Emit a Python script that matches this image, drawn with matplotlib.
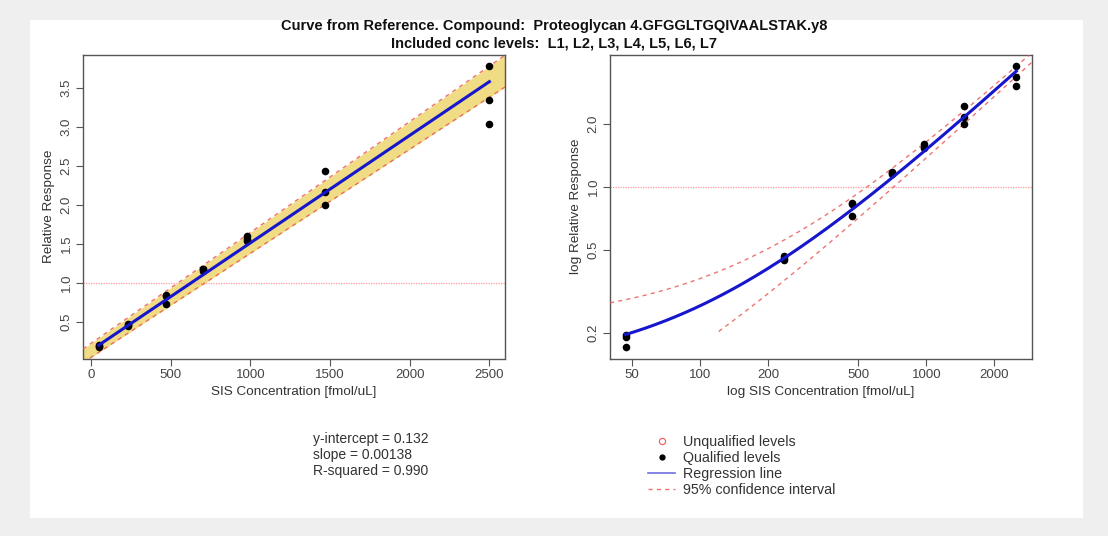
import numpy as np
import matplotlib
matplotlib.use('Agg')
import matplotlib.pyplot as plt
from matplotlib.patches import Rectangle
from matplotlib.lines import Line2D
from matplotlib.ticker import FixedLocator, FixedFormatter, NullLocator

plt.rcParams['font.family'] = ['Liberation Sans', 'DejaVu Sans']

# concentration levels L1..L7 [fmol/uL]
conc = [46.9, 234, 469, 703, 977, 1465, 2500]
# three replicate responses per level
resp_a = [0.196, 0.465, 0.836, 1.18, 1.60, 2.43, 3.78]
resp_b = [0.191, 0.455, 0.825, 1.17, 1.56, 2.16, 3.35]
resp_c = [0.171, 0.448, 0.727, 1.15, 1.54, 2.00, 3.04]

intercept = 0.132
slope = 0.00138
r_squared = 0.990
# half width of the 95% band read at x=0 and x=2500
ci_half_start = 0.09
ci_half_end = 0.20
ci_log_lower_from = 120   # lower band in the log panel starts here

x_all = np.array(conc * 3)
y_all = np.array(resp_a + resp_b + resp_c)

def fit(x):
    return intercept + slope * x

def ci_half(x):
    return ci_half_start + (ci_half_end - ci_half_start) * x / 2500

# R style axis limits (4% padding)
def pad_lin(lo, hi):
    d = (hi - lo) * 0.04
    return lo - d, hi + d

def pad_log(lo, hi):
    a, b = np.log10(lo), np.log10(hi)
    d = (b - a) * 0.04
    return 10 ** (a - d), 10 ** (b + d)

xlim_lin = pad_lin(x_all.min(), x_all.max())
ylim_lin = pad_lin(y_all.min(), y_all.max())
xlim_log = pad_log(x_all.min(), x_all.max())
ylim_log = pad_log(y_all.min(), y_all.max())

box_col = '#555555'
txt_col = '#333333'
blue = '#1616cc'
red = '#e8524f'
band = '#F0DC84'

fig = plt.figure(figsize=(11.08, 5.36), dpi=100, facecolor='#efefef')
panel = Rectangle((30 / 1108, 1 - 518 / 536), (1083 - 30) / 1108, (518 - 20) / 536,
                  transform=fig.transFigure, facecolor='white', edgecolor='none', zorder=-10)
fig.add_artist(panel)

ax1 = fig.add_axes([83 / 1108, 1 - 358.5 / 536, 422 / 1108, 303.5 / 536])
ax2 = fig.add_axes([610 / 1108, 1 - 358.5 / 536, 422 / 1108, 303.5 / 536])

for ax in (ax1, ax2):
    ax.set_facecolor('white')
    for s in ax.spines.values():
        s.set_color(box_col)
        s.set_linewidth(1.0)
    ax.tick_params(direction='out', length=5, width=0.8, color=box_col,
                   labelsize=9.5, labelcolor='#444444', pad=2.5)

# ---- left: linear ----
xg = np.linspace(xlim_lin[0], xlim_lin[1], 200)
ax1.fill_between(xg, fit(xg) - ci_half(xg), fit(xg) + ci_half(xg), color=band, lw=0, zorder=1)
ax1.axhline(1.0, color='#ff9d9d', lw=0.9, ls=(0, (1, 1)), zorder=2)
ax1.plot(xg, fit(xg) + ci_half(xg), color=red, lw=1.0, ls=(0, (3, 3)), alpha=0.8, zorder=3)
ax1.plot(xg, fit(xg) - ci_half(xg), color=red, lw=1.0, ls=(0, (3, 3)), alpha=0.8, zorder=3)
ax1.scatter(x_all, y_all, s=30, color='black', zorder=4, linewidths=0)
xr = np.array([x_all.min(), x_all.max()])
ax1.plot(xr, fit(xr), color=blue, lw=2.2, zorder=5)
ax1.set_xlim(xlim_lin)
ax1.set_ylim(ylim_lin)
ax1.set_xticks([0, 500, 1000, 1500, 2000, 2500])
ax1.set_yticks([0.5, 1.0, 1.5, 2.0, 2.5, 3.0, 3.5])
ax1.set_yticklabels(['0.5', '1.0', '1.5', '2.0', '2.5', '3.0', '3.5'], rotation=90, va='center')
ax1.set_xlabel('SIS Concentration [fmol/uL]', fontsize=9.7, color=txt_col, labelpad=4)
ax1.set_ylabel('Relative Response', fontsize=9.7, color=txt_col, labelpad=4)

# ---- right: log-log ----
ax2.set_xscale('log')
ax2.set_yscale('log')
xg2 = np.geomspace(xlim_log[0], xlim_log[1], 300)
xg2_low = xg2[xg2 >= ci_log_lower_from]
ax2.axhline(1.0, color='#ff9d9d', lw=0.9, ls=(0, (1, 1)), zorder=2)
ax2.plot(xg2, fit(xg2) + ci_half(xg2), color=red, lw=1.0, ls=(0, (3, 3)), alpha=0.8, zorder=3)
ax2.plot(xg2_low, fit(xg2_low) - ci_half(xg2_low), color=red, lw=1.0, ls=(0, (3, 3)), alpha=0.8, zorder=3)
ax2.scatter(x_all, y_all, s=30, color='black', zorder=4, linewidths=0)
xl = np.geomspace(x_all.min(), x_all.max(), 200)
ax2.plot(xl, fit(xl), color=blue, lw=2.2, zorder=5)
ax2.set_xlim(xlim_log)
ax2.set_ylim(ylim_log)
xt = [50, 100, 200, 500, 1000, 2000]
ax2.xaxis.set_major_locator(FixedLocator(xt))
ax2.xaxis.set_major_formatter(FixedFormatter([str(v) for v in xt]))
ax2.xaxis.set_minor_locator(NullLocator())
yt = [0.2, 0.5, 1.0, 2.0]
ax2.yaxis.set_major_locator(FixedLocator(yt))
ax2.yaxis.set_major_formatter(FixedFormatter(['0.2', '0.5', '1.0', '2.0']))
ax2.yaxis.set_minor_locator(NullLocator())
ax2.tick_params(axis='y', labelrotation=90)
for lab in ax2.get_yticklabels():
    lab.set_va('center')
ax2.set_xlabel('log SIS Concentration [fmol/uL]', fontsize=9.7, color=txt_col, labelpad=4)
ax2.set_ylabel('log Relative Response', fontsize=9.7, color=txt_col, labelpad=4)

# ---- title ----
fig.text(0.5, 1 - 26 / 536, 'Curve from Reference. Compound:  Proteoglycan 4.GFGGLTGQIVAALSTAK.y8',
         ha='center', va='center', fontsize=10.5, fontweight='bold', color='#111111')
fig.text(0.5, 1 - 44 / 536, 'Included conc levels:  L1, L2, L3, L4, L5, L6, L7',
         ha='center', va='center', fontsize=10.5, fontweight='bold', color='#111111')

# ---- fit statistics ----
stats = ['y-intercept = %.3f' % intercept, 'slope = %.5f' % slope, 'R-squared = %.3f' % r_squared]
for i, s in enumerate(stats):
    fig.text(313 / 1108, 1 - (439 + 16 * i) / 536, s, ha='left', va='center',
             fontsize=10, color=txt_col)

# ---- legend ----
handles = [
    Line2D([], [], ls='none', marker='o', mfc='none', mec='#ee6666', ms=4.5, mew=0.9),
    Line2D([], [], ls='none', marker='o', color='black', ms=3.5),
    Line2D([], [], color='#6f6fe0', lw=1.2),
    Line2D([], [], color=red, lw=1.0, ls=(0, (3, 3)), alpha=0.8),
]
labels = ['Unqualified levels', 'Qualified levels', 'Regression line', '95% confidence interval']
fig.legend(handles, labels, loc='upper left', bbox_to_anchor=(641 / 1108, 1 - 428 / 536),
           frameon=False, fontsize=10.3, handlelength=1.9, handletextpad=0.55,
           labelspacing=0.13, borderpad=0, labelcolor=txt_col)

fig.savefig('out.png', dpi=100, facecolor=fig.get_facecolor())
